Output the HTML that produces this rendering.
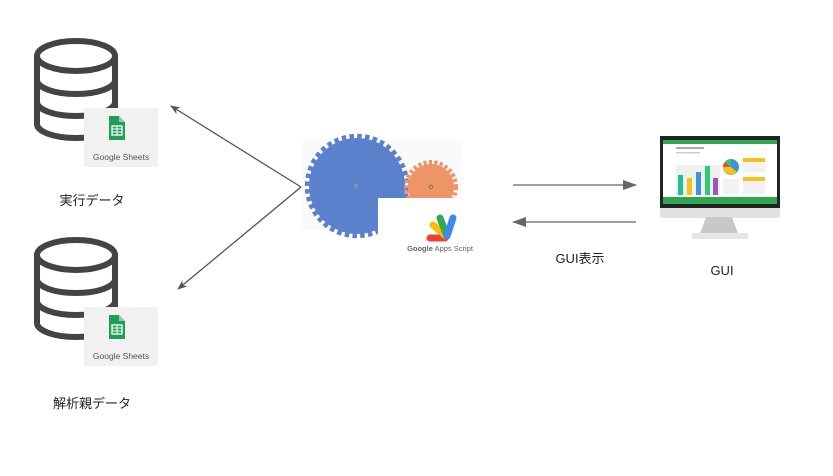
<!DOCTYPE html>
<html><head><meta charset="utf-8"><style>
html,body{margin:0;padding:0;background:#fff;}
svg{display:block;}
text{font-family:"Liberation Sans","Noto Sans CJK JP",sans-serif;}
</style></head><body>
<svg width="833" height="476" viewBox="0 0 833 476" xmlns="http://www.w3.org/2000/svg">
<defs>
<marker id="a" markerWidth="10" markerHeight="8" refX="9" refY="4" orient="auto" markerUnits="userSpaceOnUse">
<path d="M0,0 L10,4 L0,8 L3,4 Z" fill="#555"/></marker>
<marker id="b" markerWidth="14" markerHeight="10" refX="13" refY="5" orient="auto" markerUnits="userSpaceOnUse">
<path d="M0,0 L14,5 L0,10 Z" fill="#666"/></marker>
<g id="db">
<g fill="none" stroke="#444" stroke-width="6">
<ellipse cx="76" cy="56" rx="39" ry="15"/>
<path d="M37,56 V124 A39,14 0 0 0 115,124 V56"/>
<path d="M37,80 A39,14 0 0 0 115,80"/>
<path d="M37,102 A39,14 0 0 0 115,102"/>
</g>
<rect x="84" y="108" width="74" height="59" fill="#f1f1f1"/>
<path d="M109,116 h10 l6,6 v18 h-16 Z" fill="#1e9e57"/>
<path d="M119,116 l6,6 h-6 Z" fill="#87ceac"/>
<rect x="112" y="126" width="10" height="9" fill="none" stroke="#fff" stroke-width="1.3"/>
<path d="M112,129 h10 M112,132 h10 M117,126 v9" stroke="#fff" stroke-width="1"/>
<text x="121" y="160" font-size="8.5" fill="#555" text-anchor="middle">Google Sheets</text>
</g>
</defs>
<use href="#db"/>
<use href="#db" y="199"/>
<text x="92" y="205" font-size="13" fill="#222" text-anchor="middle">実行データ</text>
<text x="92" y="408" font-size="13" fill="#222" text-anchor="middle">解析親データ</text>

<line x1="301" y1="187" x2="171" y2="106" stroke="#555" stroke-width="1.3" marker-end="url(#a)"/>
<line x1="301" y1="187" x2="178" y2="289" stroke="#555" stroke-width="1.3" marker-end="url(#a)"/>

<rect x="302" y="140" width="160" height="90" fill="#fafafa"/>
<circle cx="357" cy="186" r="48" fill="#5b80cc"/>
<circle cx="357" cy="186" r="50" fill="none" stroke="#5b80cc" stroke-width="4.5" stroke-dasharray="4.5 3.35"/>
<circle cx="431" cy="187" r="23" fill="#ef9465"/>
<circle cx="431" cy="187" r="25" fill="none" stroke="#ef9465" stroke-width="4" stroke-dasharray="3.2 2.3"/>
<rect x="378" y="198" width="100" height="60" fill="#fff"/>
<circle cx="356" cy="186" r="1.5" fill="none" stroke="#999"/>
<circle cx="431" cy="187" r="1.8" fill="none" stroke="#777"/>
<g stroke-linecap="round">
<line x1="430" y1="238" x2="445" y2="238" stroke="#ea4335" stroke-width="7"/>
<line x1="433" y1="225" x2="446" y2="236" stroke="#fbbc04" stroke-width="7"/>
<line x1="440" y1="218" x2="447" y2="236" stroke="#34a853" stroke-width="7"/>
<line x1="453" y1="218" x2="447" y2="236" stroke="#4285f4" stroke-width="7"/>
</g>
<text x="440" y="251" font-size="7.5" fill="#666" text-anchor="middle"><tspan font-weight="bold">Google</tspan> Apps Script</text>

<line x1="513" y1="185" x2="636" y2="185" stroke="#666" stroke-width="1.3" marker-end="url(#b)"/>
<line x1="636" y1="222" x2="513" y2="222" stroke="#666" stroke-width="1.3" marker-end="url(#b)"/>
<text x="580" y="263" font-size="13" fill="#222" text-anchor="middle">GUI表示</text>

<rect x="660" y="206" width="120" height="12" fill="#e2e2e2"/>
<path d="M706,217 h26 l8,22 h-42 Z" fill="#c8c8c8"/>
<rect x="692" y="233" width="56" height="6" fill="#e6e6e6"/>
<rect x="660" y="136" width="120" height="72" fill="#222"/>
<rect x="663" y="140" width="114" height="64" fill="#fff"/>
<rect x="663" y="140" width="114" height="4" fill="#2ea84f"/>
<rect x="663" y="197" width="114" height="7" fill="#2ea84f"/>
<rect x="676" y="147" width="28" height="2" fill="#aaa"/>
<rect x="676" y="152" width="24" height="1.5" fill="#ccc"/>
<rect x="676" y="165" width="44" height="30" fill="#f0f0f0"/>
<rect x="678" y="175" width="5" height="20" fill="#1fc196"/>
<rect x="687" y="178" width="5" height="17" fill="#f4c21a"/>
<rect x="696" y="172" width="5" height="23" fill="#3d93d9"/>
<rect x="705" y="166" width="5" height="29" fill="#2ecc71"/>
<rect x="713" y="178" width="5" height="17" fill="#9b59b6"/>
<circle cx="731" cy="167" r="8" fill="#3d93d9"/>
<path d="M731,167 L723,167 A8,8 0 0 0 737,172 Z" fill="#f4c21a"/>
<path d="M731,167 L725,162 A8,8 0 0 0 723,167 Z" fill="#e74c3c"/>
<path d="M731,167 L731,159 A8,8 0 0 0 725,162 Z" fill="#2ecc71"/>
<rect x="743" y="158" width="22" height="4" fill="#f4c21a"/>
<rect x="743" y="162" width="22" height="10" fill="#f2f2f2"/>
<rect x="743" y="177" width="22" height="4" fill="#f4c21a"/>
<rect x="743" y="181" width="22" height="13" fill="#f2f2f2"/>
<rect x="723" y="179" width="16" height="15" fill="#f2f2f2"/>
<text x="722" y="275" font-size="13" fill="#222" text-anchor="middle">GUI</text>
</svg>
</body></html>
